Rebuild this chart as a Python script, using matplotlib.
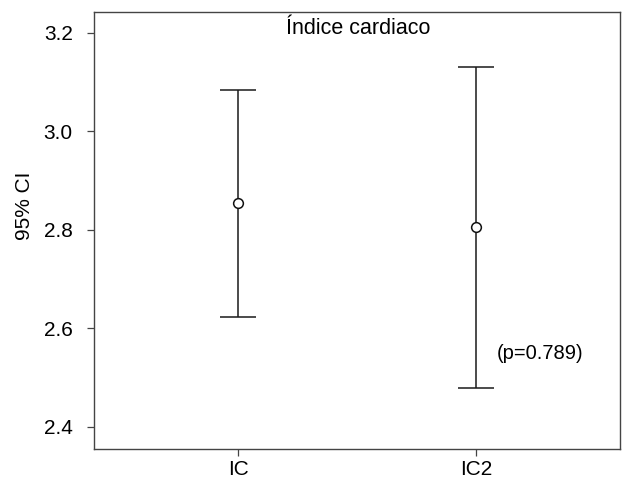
import matplotlib
matplotlib.use("Agg")
import matplotlib.pyplot as plt

categories = ["IC", "IC2"]
means = [2.854, 2.805]
lower = [2.6236, 2.478]
upper = [3.084, 3.130]
yticks = [2.4, 2.6, 2.8, 3.0, 3.2]
title = "Índice cardiaco"
ptext = "(p=0.789)"

plt.rcParams['font.family'] = ['Liberation Sans', 'DejaVu Sans']

fig = plt.figure(figsize=(6.22, 4.79), dpi=100)
ax = fig.add_axes([93.7/622, 1-449/479, (620-93.7)/622, (449-11.7)/479])

x = [1, 2]
err_lo = [m - l for m, l in zip(means, lower)]
err_hi = [u - m for m, u in zip(means, upper)]
ax.errorbar(x, means, yerr=[err_lo, err_hi], fmt='o', color='#1a1a1a',
            ecolor='#1a1a1a', elinewidth=1.1, capsize=13, capthick=1.1,
            markersize=7, markerfacecolor='white', markeredgecolor='#111111',
            markeredgewidth=1.1)

ax.set_xlim(0.3917, 2.606)
ax.set_ylim(2.3547, 3.2426)
ax.set_xticks(x)
ax.set_xticklabels(categories, fontsize=15)
ax.set_yticks(yticks)
ax.set_yticklabels([f"{v:.1f}" for v in yticks], fontsize=15)
ax.tick_params(axis='y', length=5, width=0.9, color='#444444', pad=10)
ax.tick_params(axis='x', length=5, width=0.9, color='#444444', pad=3)
for s in ax.spines.values():
    s.set_color('#444444')
    s.set_linewidth(1.0)

ax.text(1.506, 3.2095, title, ha='center', va='center', fontsize=15.5)
ax.text(2.269, 2.5476, ptext, ha='center', va='center', fontsize=14.5)

fig.text(25/622, 1-206/479, "95% CI", rotation=90, ha='center',
         va='center', fontsize=15)

fig.savefig("out.png", dpi=100)
